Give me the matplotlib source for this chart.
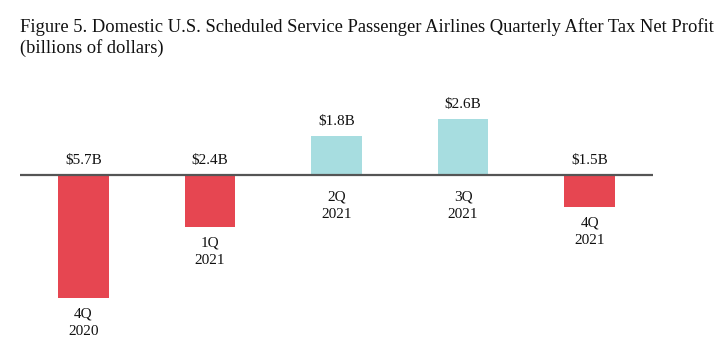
import matplotlib.pyplot as plt

quarters = ['4Q\n2020', '1Q\n2021', '2Q\n2021', '3Q\n2021', '4Q\n2021']
profit = [-5.7, -2.4, 1.8, 2.6, -1.5]
value_labels = ['$5.7B', '$2.4B', '$1.8B', '$2.6B', '$1.5B']

RED = '#E64651'
CYAN = '#A7DDE0'

plt.rcParams['font.family'] = ['Liberation Serif', 'DejaVu Serif']

fig = plt.figure(figsize=(7.25, 3.55), dpi=100)
# axes spans x 20..653 px, y zero line at 175 px (21.5 px per billion)
ylo, yhi = -6.6, 3.8
top_px = 175 - yhi * 21.5
bot_px = 175 - ylo * 21.5
ax = fig.add_axes([20 / 725, (355 - bot_px) / 355, 633 / 725, (bot_px - top_px) / 355])
ax.set_xlim(-0.5, 4.5)
ax.set_ylim(ylo, yhi)
ax.axis('off')

colors = [RED if v < 0 else CYAN for v in profit]
ax.bar(range(len(profit)), profit, width=0.4, color=colors, zorder=2)
ax.axhline(0, color='#555555', lw=1.6, zorder=3)

for i, (v, lab, q) in enumerate(zip(profit, value_labels, quarters)):
    top = max(v, 0)
    bottom = min(v, 0)
    ax.annotate(lab, (i, top), xytext=(0, 6), textcoords='offset points',
                ha='center', va='bottom', fontsize=11, color='#111111')
    ax.annotate(q, (i, bottom), xytext=(0, -11 if v > 0 else -7), textcoords='offset points',
                ha='center', va='top', fontsize=11, color='#111111',
                linespacing=1.45, annotation_clip=False)

fig.text(20 / 725, 1 - 18 / 355,
         'Figure 5. Domestic U.S. Scheduled Service Passenger Airlines Quarterly After Tax Net Profit',
         ha='left', va='top', fontsize=13.3, color='#111111')
fig.text(20 / 725, 1 - 39 / 355, '(billions of dollars)',
         ha='left', va='top', fontsize=13.3, color='#111111')

fig.savefig('out.png', dpi=100)
